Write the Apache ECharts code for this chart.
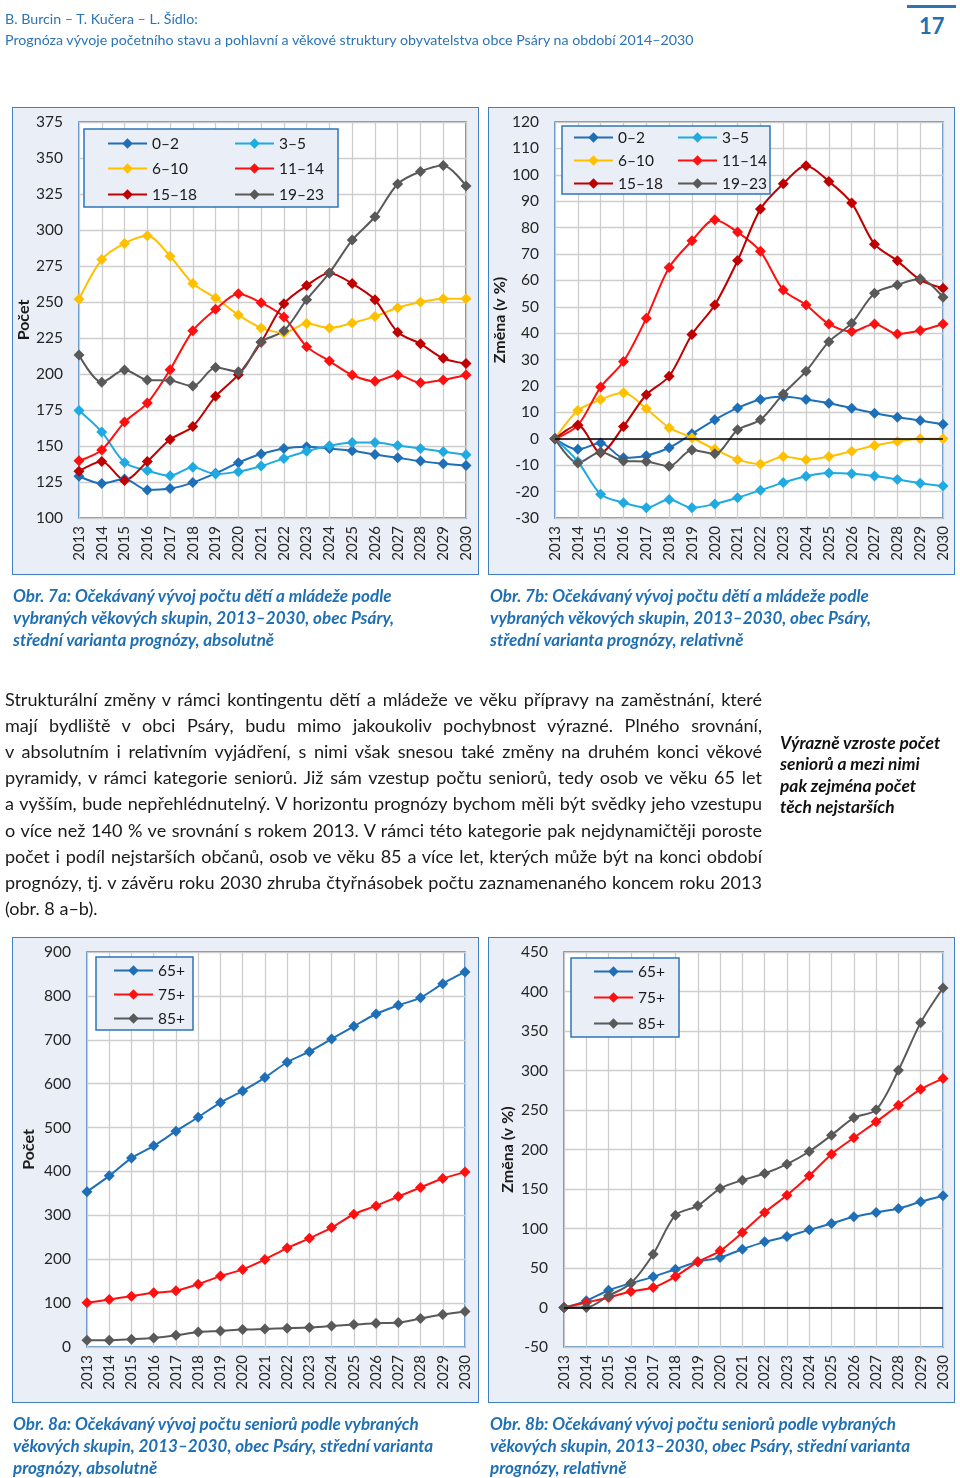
<!DOCTYPE html>
<html><head><meta charset="utf-8">
<script src="https://cdn.jsdelivr.net/npm/echarts@6/dist/echarts.min.js"></script>
<style>
html,body{margin:0;padding:0;background:#fff;}
#page{position:relative;width:960px;height:1478px;overflow:hidden;font-family:"Lato",sans-serif;}
.t{position:absolute;white-space:nowrap;line-height:22px;}
.frame{position:absolute;background:#EAEFF7;border:1.5px solid #4080C0;box-sizing:border-box;}
#chart{position:absolute;left:0;top:0;width:960px;height:1478px;}
.hdr{color:#2E74B5;}
.cap{color:#1F6FB5;font-weight:bold;font-style:italic;}
.body{color:#1a1a1a;}
.side{color:#111;font-weight:bold;font-style:italic;}
</style></head>
<body>
<div id="page">
  <div class="frame" style="left:12px;top:107px;width:467px;height:468px"></div>
  <div class="frame" style="left:488px;top:107px;width:467px;height:468px"></div>
  <div class="frame" style="left:12px;top:937px;width:467px;height:466px"></div>
  <div class="frame" style="left:488px;top:937px;width:467px;height:466px"></div>
  <div style="position:absolute;left:907px;top:5px;width:49px;height:3px;background:#2E74B5"></div>
  <div class="t" style="left:919px;top:13px;font-size:22px;font-weight:bold;color:#1F6FB5;line-height:26px">17</div>
  <div id="chart"></div>
</div>
<script>
// ---------- DATA ----------
const years = ['2013','2014','2015','2016','2017','2018','2019','2020','2021','2022','2023','2024','2025','2026','2027','2028','2029','2030'];
const childNames = ['0–2','3–5','6–10','11–14','15–18','19–23'];
const seniorNames = ['65+','75+','85+'];

// Obr. 7a (absolute)
const abs02   = [129,124,127,119.5,120.5,124.6,131,138.4,144.4,148.3,149.4,148.3,146.7,144.1,141.8,139.5,137.7,136.5];
const abs35   = [174.7,159.8,138.6,132.9,129.4,135.2,130.6,132.2,136.1,141.4,146.4,150.1,152.4,152.4,150.3,148.3,146,143.9];
const abs610  = [251.9,279.5,290.7,296,281.8,262.8,252.8,241,232,228.7,235,232,235.4,240,246,250,252.3,252.3];
const abs1114 = [139.8,147.3,166.6,179.8,203,230,244.9,255.8,249.5,239.5,219,209,199.3,195,199.3,193.9,195.9,199.3];
const abs1518 = [132.5,139.3,126.1,139.3,154.5,163.6,184.5,199.5,222,248.8,261.4,270.2,262.8,251.6,229,221,210.9,207.3];
const abs1923 = [213.2,194.3,202.7,195.9,195.5,191.6,204.5,201.6,222.2,230,251.6,270.2,293,309.2,332,340.6,344.8,330.6];

// Obr. 7b (relative, %)
const rel02   = [0,-4,-1.6,-7.2,-6.4,-3.4,1.9,7.2,11.7,14.9,16,14.9,13.5,11.6,9.7,8.2,6.9,5.5];
const rel35   = [0,-8.6,-21,-24.2,-26.1,-23,-26.1,-24.7,-22.3,-19.5,-16.6,-14.2,-13,-13.2,-14.1,-15.4,-16.8,-17.9];
const rel610  = [0,10.7,14.9,17.4,11.4,4.2,0.4,-4,-7.9,-9.5,-6.7,-7.9,-6.7,-4.7,-2.5,-1,0,0];
const rel1114 = [0,5.1,19.6,29.3,45.7,64.9,75,83,78.3,71,56.4,50.7,43.5,40.6,43.5,39.7,41,43.5];
const rel1518 = [0,5.1,-5.3,4.7,16.7,23.7,39.5,50.7,67.5,87,96.6,103.4,97.5,89.3,73.7,67.4,60.2,57];
const rel1923 = [0,-9.2,-5,-8.4,-8.6,-10.4,-4.2,-5.7,3.4,7.2,17,25.6,36.8,43.8,55.1,58.3,60.6,53.6];

// Obr. 8a (absolute)
const abs65 = [354,390,430.5,458.3,491.7,523.5,556.9,583.5,613.9,648.8,673,701.9,730.7,758.8,778.6,796,827.9,854.5];
const abs75 = [100.6,108.2,115.8,123.4,128,143.2,161.5,176.8,199.6,225.5,247.6,272,302.5,321.5,342.9,363.4,384,398.5];
const abs85 = [15.2,15.2,17.5,20.6,26.7,34.3,36.6,39.6,41.1,42.7,44.2,48,51,54.1,55.6,64.8,73.9,80.8];

// Obr. 8b (relative, %)
const rel65 = [0,8.4,21.9,30.8,38.8,48.5,57.8,63.3,73.8,83.1,89.9,98.3,106.3,114.8,120.3,125.3,133.8,141.4];
const rel75 = [0,6.3,12.7,20.3,25.3,39.2,57.8,71.7,94.9,120.3,142.2,166.7,194.1,214.8,235,256,276.3,289.8];
const rel85 = [0,0,14.8,30.8,67.5,116.9,128.7,150.6,161.2,169.6,181.4,197.5,218.1,240.1,250.2,300.3,360.6,404.5];

// ---------- TEXTS ----------
const headerLines = ['B. Burcin – T. Kučera – L. Šídlo:','Prognóza vývoje početního stavu a pohlavní a věkové struktury obyvatelstva obce Psáry na období 2014–2030'];
const cap7a = ['Obr. 7a: Očekávaný vývoj počtu dětí a mládeže podle','vybraných věkových skupin, 2013–2030, obec Psáry,','střední varianta prognózy, absolutně'];
const cap7b = ['Obr. 7b: Očekávaný vývoj počtu dětí a mládeže podle','vybraných věkových skupin, 2013–2030, obec Psáry,','střední varianta prognózy, relativně'];
const cap8a = ['Obr. 8a: Očekávaný vývoj počtu seniorů podle vybraných','věkových skupin, 2013–2030, obec Psáry, střední varianta','prognózy, absolutně'];
const cap8b = ['Obr. 8b: Očekávaný vývoj počtu seniorů podle vybraných','věkových skupin, 2013–2030, obec Psáry, střední varianta','prognózy, relativně'];
const bodyLines = [
 'Strukturální změny v rámci kontingentu dětí a mládeže ve věku přípravy na zaměstnání, které',
 'mají bydliště v obci Psáry, budu mimo jakoukoliv pochybnost výrazné. Plného srovnání,',
 'v absolutním i relativním vyjádření, s nimi však snesou také změny na druhém konci věkové',
 'pyramidy, v rámci kategorie seniorů. Již sám vzestup počtu seniorů, tedy osob ve věku 65 let',
 'a vyšším, bude nepřehlédnutelný. V horizontu prognózy bychom měli být svědky jeho vzestupu',
 'o více než 140 % ve srovnání s rokem 2013. V rámci této kategorie pak nejdynamičtěji poroste',
 'počet i podíl nejstarších občanů, osob ve věku 85 a více let, kterých může být na konci období',
 'prognózy, tj. v závěru roku 2030 zhruba čtyřnásobek počtu zaznamenaného koncem roku 2013',
 '(obr. 8 a–b).'
];
const sideLines = ['Výrazně vzroste počet','seniorů a mezi nimi','pak zejména počet','těch nejstarších'];

// ---------- TEXT LAYOUT ----------
const page = document.getElementById('page');
function mk(text, cls, x, cy, fs){
  const d = document.createElement('div');
  d.className = 't ' + cls; d.textContent = text;
  d.style.left = x + 'px'; d.style.top = (cy - 11.5) + 'px'; d.style.fontSize = fs + 'px';
  page.appendChild(d); return d;
}
function fit(items, all, baseFs, maxFs){
  let r = Infinity;
  items.forEach(([el,w])=>{ el.style.display='inline-block'; const n=el.getBoundingClientRect().width; r=Math.min(r,w/n); });
  const fs = Math.min(maxFs, baseFs*r*0.99);
  all.forEach(el=>{ el.style.fontSize = fs+'px'; });
  return fs;
}
const h1 = mk(headerLines[0],'hdr',5,19,15), h2 = mk(headerLines[1],'hdr',5,40,15);
fit([[h1,195],[h2,708]],[h1,h2],15,17);
const capEls = [];
[[cap7a,13,596.5],[cap7b,490,596.5],[cap8a,13,1424],[cap8b,490,1424]].forEach(([lines,x,y0])=>{
  lines.forEach((l,i)=>capEls.push(mk(l,'cap',x,y0+i*22,16)));
});
fit([[capEls[0],391],[capEls[3],392],[capEls[6],418],[capEls[7],425],[capEls[9],418]],capEls,16,17.5);
const bodyEls = bodyLines.map((l,i)=>mk(l,'body',5,699.5+i*26.1,17));
fit(bodyEls.slice(0,8).map(e=>[e,757]),bodyEls,17,18.5);
bodyEls.slice(0,8).forEach(e=>{ e.style.display='block'; e.style.width='757px'; e.style.whiteSpace='normal'; e.style.textAlign='justify'; e.style.textAlignLast='justify'; });
const sideEls = sideLines.map((l,i)=>mk(l,'side',780,743+i*21.5,16));
fit([[sideEls[0],162]],sideEls,16,17.5);

// ---------- CHART ----------
const C = {dblue:'#1F6FB8', lblue:'#1FAAE2', yellow:'#FFC000', red:'#FF1010', dred:'#C00000', gray:'#595959'};
const FONT = 'Lato';
const grids = [
  {left:79, top:122, width:387, height:396},
  {left:555, top:122, width:388, height:396},
  {left:87, top:952, width:378, height:395},
  {left:564, top:952, width:379, height:395}
].map(g=>Object.assign(g,{show:true, backgroundColor:'#fff', borderColor:'#2E75B6', borderWidth:1.5}));
const gridLine = {show:true, lineStyle:{color:'#CDCDCD', width:1.3}};
const xAxes = grids.map((g,i)=>({type:'category', gridIndex:i, data:years, boundaryGap:false,
  axisLine:{show:false}, axisTick:{show:false}, splitLine:gridLine,
  axisLabel:{rotate:90, margin:8, fontSize:15, color:'#262626', fontFamily:FONT}}));
const yCfg = [
  {min:100,max:375,interval:25,name:'Počet',nameGap:43},
  {min:-30,max:120,interval:10,name:'Změna (v %)',nameGap:39},
  {min:0,max:900,interval:100,name:'Počet',nameGap:50},
  {min:-50,max:450,interval:50,name:'Změna (v %)',nameGap:48}
];
const yAxes = yCfg.map((c,i)=>({type:'value', gridIndex:i, min:c.min, max:c.max, interval:c.interval,
  name:c.name, nameLocation:'middle', nameGap:c.nameGap,
  nameTextStyle:{fontSize:16, fontWeight:'bold', color:'#1a1a1a', fontFamily:FONT},
  axisLine:{show:false}, axisTick:{show:false}, splitLine:gridLine,
  axisLabel:{fontSize:15.5, margin:16, color:'#262626', fontFamily:FONT}}));

function ser(name, data, color, gi){
  return {name, type:'line', xAxisIndex:gi, yAxisIndex:gi, data, smooth:0.3,
    symbol:'diamond', symbolSize:11, showSymbol:true,
    lineStyle:{color, width:2}, itemStyle:{color}, emphasis:{disabled:true}};
}
function zeroLine(gi){
  return {type:'line', xAxisIndex:gi, yAxisIndex:gi, data:[], z:1, silent:true,
    markLine:{silent:true, symbol:'none', label:{show:false}, animation:false,
      lineStyle:{color:'#000', width:1.5, type:'solid'}, data:[{yAxis:0}]}};
}
const childColors = [C.dblue,C.lblue,C.yellow,C.red,C.dred,C.gray];
const childAbs = [abs02,abs35,abs610,abs1114,abs1518,abs1923];
const childRel = [rel02,rel35,rel610,rel1114,rel1518,rel1923];
const senColors = [C.dblue,C.red,C.gray];
const senAbs = [abs65,abs75,abs85], senRel = [rel65,rel75,rel85];

const series = [];
series.push(zeroLine(1), zeroLine(3));
childNames.forEach((n,k)=>series.push(ser(n, childAbs[k], childColors[k], 0)));
childNames.forEach((n,k)=>series.push(ser(n, childRel[k], childColors[k], 1)));
seniorNames.forEach((n,k)=>series.push(ser(n, senAbs[k], senColors[k], 2)));
seniorNames.forEach((n,k)=>series.push(ser(n, senRel[k], senColors[k], 3)));

const legends = [];
function leg(name, x, cy){
  legends.push({data:[name], left:x, top:cy-7.5, padding:0, itemWidth:39, itemHeight:13, itemGap:0,
    selectedMode:false, textStyle:{fontSize:15.5, color:'#1a1a1a', fontFamily:FONT, lineHeight:15}});
}
[[107,143],[234,143],[107,168],[234,168],[107,194],[234,194]].forEach((p,k)=>leg(childNames[k],p[0],p[1]));
[[573,137],[677,137],[573,160],[677,160],[573,183],[677,183]].forEach((p,k)=>leg(childNames[k],p[0],p[1]));
[[113,970],[113,994],[113,1018]].forEach((p,k)=>leg(seniorNames[k],p[0],p[1]));
[[593,971],[593,997],[593,1023]].forEach((p,k)=>leg(seniorNames[k],p[0],p[1]));

const box = (x1,y1,x2,y2)=>({type:'rect', z:3, shape:{x:x1,y:y1,width:x2-x1,height:y2-y1},
  style:{fill:'#EAEFF7', stroke:'#2E75B6', lineWidth:1.5}});

const chart = echarts.init(document.getElementById('chart'), null, {renderer:'canvas'});
chart.setOption({
  animation:false,
  backgroundColor:'transparent',
  textStyle:{fontFamily:FONT},
  grid:grids, xAxis:xAxes, yAxis:yAxes, series, legend:legends,
  graphic:[box(84,129,338,207), box(562,126,770,194), box(96,957,193,1030), box(571,958,679,1037)]
});
</script>
</body></html>
